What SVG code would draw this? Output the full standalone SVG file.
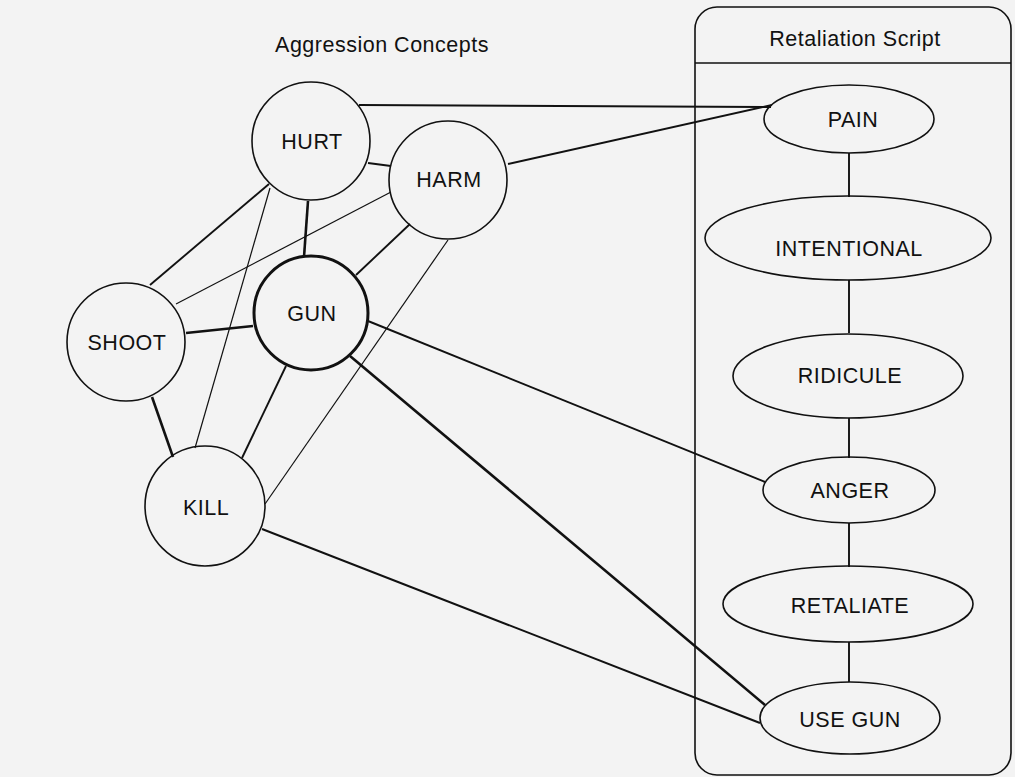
<svg xmlns="http://www.w3.org/2000/svg" width="1015" height="777" viewBox="0 0 1015 777">
<style>
text{font-family:"Liberation Sans",Arial,sans-serif;font-size:21.5px;letter-spacing:0.5px;fill:#111;text-anchor:middle}
.n{fill:none;stroke:#111;stroke-width:1.6}
.gun{fill:none;stroke:#111;stroke-width:3}
.thin{stroke:#111;stroke-width:1.2;fill:none}
.med{stroke:#111;stroke-width:1.9;fill:none}
.thick{stroke:#111;stroke-width:2.6;fill:none}
</style>
<rect x="0" y="0" width="1015" height="777" fill="#f3f3f3"/>
<g id="script-box">
<rect x="695" y="7" width="316" height="768" rx="22" ry="22" class="n"/>
<line x1="695" y1="63" x2="1011" y2="63" class="n"/>
<text x="855" y="46">Retaliation Script</text>
</g>
<text id="title" x="382" y="52">Aggression Concepts</text>
<g id="connectors">
<line x1="359" y1="105" x2="771" y2="107" class="med"/>
<line x1="508" y1="164" x2="772" y2="105" class="med"/>
<line x1="368" y1="163" x2="391" y2="166" class="med"/>
<line x1="269" y1="184" x2="150" y2="285" class="med"/>
<line x1="270" y1="188" x2="195" y2="448" class="thin"/>
<line x1="308" y1="201" x2="304" y2="257" class="thick"/>
<line x1="391" y1="192" x2="176" y2="304" class="thin"/>
<line x1="410" y1="224" x2="356" y2="275" class="med"/>
<line x1="448" y1="240" x2="265" y2="504" class="thin"/>
<line x1="186" y1="333" x2="253" y2="326" class="thick"/>
<line x1="152" y1="397" x2="173" y2="457" class="thick"/>
<line x1="286" y1="366" x2="242" y2="458" class="med"/>
<line x1="368" y1="321" x2="765" y2="482" class="med"/>
<line x1="350" y1="356" x2="765" y2="705" class="thick"/>
<line x1="262" y1="529" x2="760" y2="723" class="med"/>
<line x1="849" y1="153" x2="849" y2="197" class="med"/>
<line x1="849" y1="280" x2="849" y2="333" class="med"/>
<line x1="849" y1="418" x2="849" y2="458" class="med"/>
<line x1="849" y1="523" x2="849" y2="567" class="med"/>
<line x1="849" y1="642" x2="849" y2="682" class="med"/>
</g>
<g id="HURT"><circle cx="311" cy="141" r="59" class="n"/><text x="312" y="149">HURT</text></g>
<g id="HARM"><circle cx="448" cy="180" r="59" class="n"/><text x="449" y="187">HARM</text></g>
<g id="GUN"><circle cx="311" cy="313" r="57" class="gun"/><text x="312" y="321">GUN</text></g>
<g id="SHOOT"><circle cx="126" cy="342" r="59" class="n"/><text x="127" y="350">SHOOT</text></g>
<g id="KILL"><circle cx="205" cy="506" r="60" class="n"/><text x="206" y="515">KILL</text></g>
<g id="PAIN"><ellipse cx="849" cy="119" rx="85" ry="34" class="n"/><text x="853" y="127">PAIN</text></g>
<g id="INTENTIONAL"><ellipse cx="848" cy="238" rx="143" ry="42" class="n"/><text x="849" y="256">INTENTIONAL</text></g>
<g id="RIDICULE"><ellipse cx="848" cy="376" rx="115" ry="42" class="n"/><text x="850" y="383">RIDICULE</text></g>
<g id="ANGER"><ellipse cx="849" cy="490" rx="86" ry="33" class="n"/><text x="850" y="498">ANGER</text></g>
<g id="RETALIATE"><ellipse cx="848" cy="604" rx="125" ry="38" class="n"/><text x="850" y="613">RETALIATE</text></g>
<g id="USE-GUN"><ellipse cx="850" cy="718" rx="90" ry="36" class="n"/><text x="850" y="727">USE GUN</text></g>
</svg>
